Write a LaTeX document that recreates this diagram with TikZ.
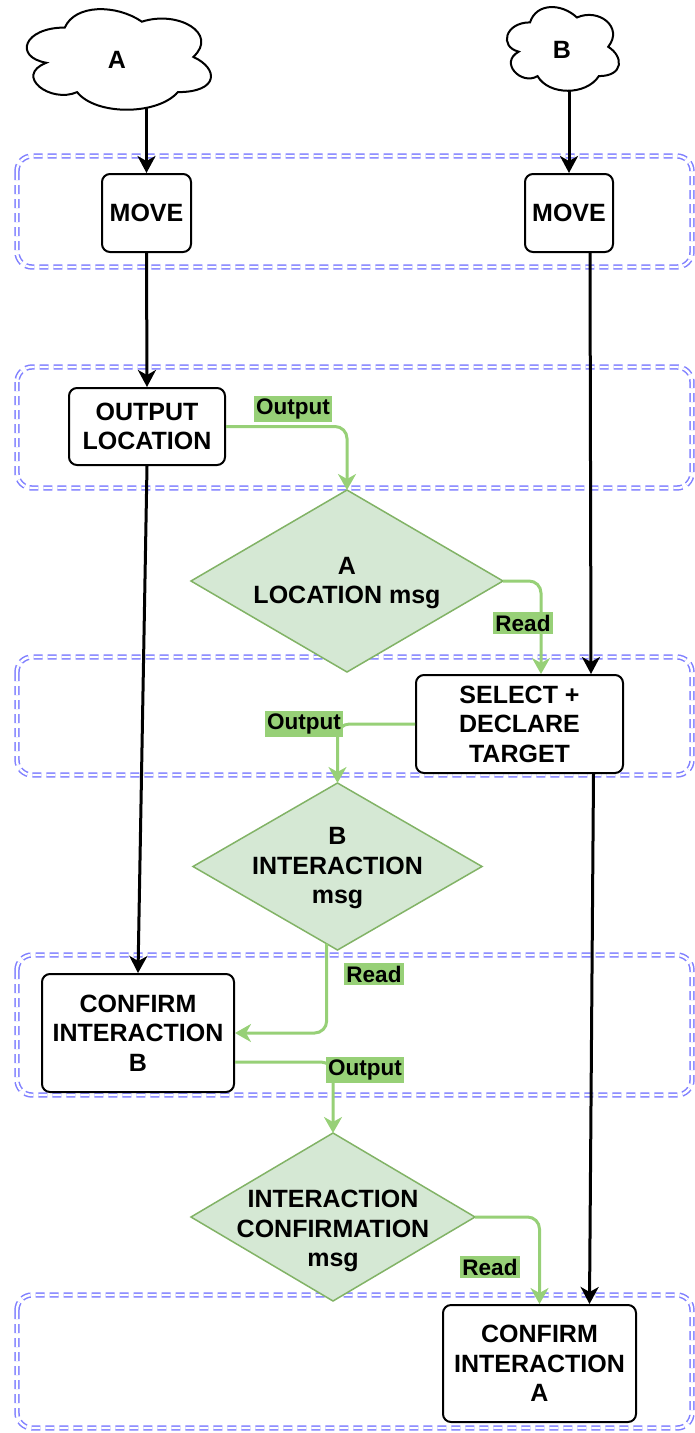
\documentclass[tikz,border=0pt]{standalone}
\usepackage{fontspec}
\setmainfont{Liberation Sans}
\usetikzlibrary{shapes.geometric,arrows.meta,calc}
\definecolor{lanec}{RGB}{128,128,255}
\definecolor{gline}{RGB}{151,208,119}
\definecolor{dfill}{RGB}{213,232,212}
\definecolor{dstroke}{RGB}{130,179,102}
\begin{document}
\begin{tikzpicture}[x=1pt,y=-1pt,
  lane/.style={draw=lanec, line width=1.5pt, double=white, double distance=2.4pt, dash pattern=on 9pt off 5pt, rounded corners=15pt},
  box/.style={draw=black, line width=2pt, rounded corners=8pt, fill=white, align=center, font=\fontsize{25}{29.5}\selectfont\bfseries, inner sep=0pt},
  msg/.style={shape=diamond, draw=dstroke, fill=dfill, line width=1.5pt, inner sep=0pt, outer sep=0pt},
  msgtext/.style={align=center, font=\fontsize{25}{29.5}\selectfont\bfseries, inner sep=0pt},
  tag/.style={fill=gline, font=\fontsize{22.5}{24}\selectfont\bfseries, inner xsep=2.5pt, inner ysep=3pt},
  cloudtext/.style={font=\fontsize{25}{29}\selectfont\bfseries, inner sep=0pt},
  cloudline/.style={draw=black, line width=2pt, fill=white},
  flow/.style={draw=black, line width=3pt, -{Stealth[length=17pt,width=18pt,inset=5pt]}},
  gflow/.style={draw=gline, line width=3pt, rounded corners=12pt, -{Stealth[length=16pt,width=18pt,inset=5pt]}},
]
\useasboundingbox (0,0) rectangle (695,1433);

% lanes
\draw[lane] (17,156) rectangle (692,267);
\draw[lane] (17,367) rectangle (692,488);
\draw[lane] (17,657) rectangle (692,775);
\draw[lane] (17,955) rectangle (692,1095);
\draw[lane] (17,1295) rectangle (692,1428);

% clouds
\node[minimum width=205.6pt, minimum height=117.4pt, inner sep=0pt] (cloudA) at (116.4,57.1) {};
\begin{scope}[shift={(cloudA.north west)}, x=205.6pt, y=-117.4pt]
  \draw[cloudline] (0.25,0.25) .. controls (0.05,0.25) and (0,0.5) .. (0.16,0.55)
    .. controls (0,0.66) and (0.18,0.9) .. (0.31,0.8)
    .. controls (0.4,1) and (0.7,1) .. (0.8,0.8)
    .. controls (1,0.8) and (1,0.6) .. (0.875,0.5)
    .. controls (1,0.3) and (0.8,0.1) .. (0.625,0.2)
    .. controls (0.5,0.05) and (0.3,0.05) .. (0.25,0.25) -- cycle;
\end{scope}
\node[cloudtext] (labA) at (117,60) {A};

\node[minimum width=125.1pt, minimum height=97.7pt, inner sep=0pt] (cloudB) at (561.5,47) {};
\begin{scope}[shift={(cloudB.north west)}, x=125.1pt, y=-97.7pt]
  \draw[cloudline] (0.25,0.25) .. controls (0.05,0.25) and (0,0.5) .. (0.16,0.55)
    .. controls (0,0.66) and (0.18,0.9) .. (0.31,0.8)
    .. controls (0.4,1) and (0.7,1) .. (0.8,0.8)
    .. controls (1,0.8) and (1,0.6) .. (0.875,0.5)
    .. controls (1,0.3) and (0.8,0.1) .. (0.625,0.2)
    .. controls (0.5,0.05) and (0.3,0.05) .. (0.25,0.25) -- cycle;
\end{scope}
\node[cloudtext] (labB) at (562,50) {B};

% boxes
\node[box, minimum width=89pt, minimum height=78pt] (mA) at (146.5,213) {MOVE};
\node[box, minimum width=88pt, minimum height=78pt] (mB) at (569,213) {MOVE};
\node[box, minimum width=156pt, minimum height=77pt] (oL) at (147,426.5) {OUTPUT\\LOCATION};
\node[box, minimum width=207pt, minimum height=98pt] (sel) at (519.5,724) {SELECT +\\DECLARE\\TARGET};
\node[box, minimum width=192pt, minimum height=118pt] (cB) at (138,1033) {CONFIRM\\INTERACTION\\B};
\node[box, minimum width=193pt, minimum height=117pt] (cA) at (539.5,1363.5) {CONFIRM\\INTERACTION\\A};

% diamonds
\node[msg, minimum width=312pt, minimum height=182pt] (d1) at (347,581) {};
\node[msgtext] (t1) at ($(d1)+(0,2)$) {A\\LOCATION msg};
\node[msg, minimum width=289pt, minimum height=167pt] (d2) at (337.5,866.5) {};
\node[msgtext] (t2) at ($(d2)+(0,2)$) {B\\INTERACTION\\msg};
\node[msg, minimum width=284pt, minimum height=168pt] (d3) at (333,1217) {};
\node[msgtext] (t3) at ($(d3)+(0,14)$) {INTERACTION\\CONFIRMATION\\msg};

% black flows
\draw[flow] ($(cloudA.south -| mA.north)+(0,-9)$) -- (mA.north);
\draw[flow] ($(cloudB.south -| mB.north)+(0,-5)$) -- (mB.north);
\draw[flow] (mA.south) -- (oL.north);
\draw[flow] (oL.south) -- (cB.north);
\draw[flow] ([xshift=21pt]mB.south) -- ([xshift=71.5pt]sel.north);
\draw[flow] ([xshift=74pt]sel.south) -- ([xshift=50pt]cA.north);

% green flows
\draw[gflow] (oL.east) -| (d1.north);
\draw[gflow] (d1.east) -| ([xshift=21.5pt]sel.north);
\draw[gflow] (sel.west) -| (d2.north);
\draw[gflow] (d2.262) |- (cB.east);
\draw[gflow] ([yshift=-29pt]cB.east) -| (d3.north);
\draw[gflow] (d3.east) -| (cA.north);

% labels
\node[tag] (lo1) at (293,409) {Output};
\node[tag] (lr1) at (523,623) {Read};
\node[tag] (lo2) at (304,724) {Output};
\node[tag] (lr2) at (374,974) {Read};
\node[tag] (lo3) at (365,1070) {Output};
\node[tag] (lr3) at (490,1267) {Read};
\end{tikzpicture}
\end{document}
